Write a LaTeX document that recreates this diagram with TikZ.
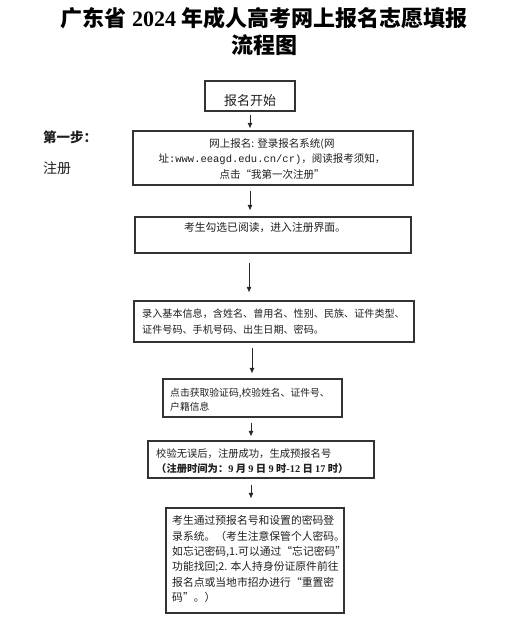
\documentclass[tikz,border=0pt]{standalone}
\usepackage{fontspec}
\setmainfont{Noto Sans CJK SC}
\setmonofont{Liberation Mono}
\newfontfamily\latinserif{Liberation Serif}
\usetikzlibrary{arrows.meta}
\begin{document}
\begin{tikzpicture}[x=1pt,y=-1pt,
  box/.style={draw=black!80,line width=1.1pt,inner sep=0pt,fill=none},
  txt/.style={inner sep=0pt,text=black!88},
  arr/.style={draw=black!85,line width=0.8pt,-{Latex[length=5.5pt,width=5pt]}},
  title/.style={inner sep=0pt,font=\fontsize{22}{26}\selectfont\bfseries}]
\useasboundingbox[fill=white] (0,0) rectangle (517,629);
% title
\node[title] (title1) at (264,18) {广东省 {\latinserif\bfseries 2024} 年成人高考网上报名志愿填报};
\node[title] (title2) at (264,45) {流程图};
% side labels
\node[txt,anchor=west,font=\fontsize{13.5}{15}\selectfont\bfseries] (step1) at (43,137) {第一步：};
\node[txt,anchor=west,font=\fontsize{14}{16}\selectfont] (reg) at (43,168) {注册};
% boxes
\node[box,minimum width=90pt,minimum height=30pt] (b0) at (250,96) {};
\node[box,minimum width=280pt,minimum height=54pt] (b1) at (273,158) {};
\node[box,minimum width=276pt,minimum height=36pt] (b2) at (273,235) {};
\node[box,minimum width=280pt,minimum height=41pt] (b3) at (274,321.5) {};
\node[box,minimum width=179pt,minimum height=38pt] (b4) at (252.5,398) {};
\node[box,minimum width=226pt,minimum height=37pt] (b5) at (261,459.5) {};
\node[box,minimum width=178pt,minimum height=105pt] (b6) at (255,560.5) {};
% texts
\node[txt,font=\fontsize{13}{15}\selectfont] (t0) at (250,101) {报名开始};
\node[txt,align=center,font=\fontsize{10.5}{15.5}\selectfont] (t1) at (272,159) {网上报名: 登录报名系统(网\\址{\ttfamily :www.eeagd.edu.cn/cr)}，阅读报考须知，\\点击“我第一次注册”};
\node[txt,font=\fontsize{10.8}{15}\selectfont] (t2) at (265,228) {考生勾选已阅读，进入注册界面。};
\node[txt,anchor=west,align=left,font=\fontsize{10.1}{16}\selectfont] (t3) at (142,321.5) {录入基本信息，含姓名、曾用名、性别、民族、证件类型、\\证件号码、手机号码、出生日期、密码。};
\node[txt,anchor=west,align=left,font=\fontsize{9.8}{14}\selectfont] (t4) at (170,399.5) {点击获取验证码,校验姓名、证件号、\\户籍信息};
\node[txt,anchor=west,align=left,font=\fontsize{10.3}{15}\selectfont] (t5) at (156,461.5) {校验无误后，注册成功，生成预报名号\\{\bfseries （注册时间为：{\latinserif\bfseries 9} 月 {\latinserif\bfseries 9} 日 {\latinserif\bfseries 9} 时{\latinserif\bfseries -12} 日 {\latinserif\bfseries 17} 时）}};
\node[txt,anchor=west,align=left,font=\fontsize{10.8}{15.3}\selectfont] (t6) at (172,559) {考生通过预报名号和设置的密码登\\录系统。（考生注意保管个人密码。\\如忘记密码,1.可以通过“忘记密码”\\功能找回;2. 本人持身份证原件前往\\报名点或当地市招办进行“重置密\\码”。）};
% arrow columns
\coordinate (xa) at (250,0);
\coordinate (xb) at (249,0);
\coordinate (xc) at (252,0);
\coordinate (xd) at (251,0);
% arrows
\draw[arr,shorten <=3pt,shorten >=2pt] (b0.south) -- (b0.south |- b1.north);
\draw[arr,shorten <=5pt,shorten >=6pt] (b1.south -| xa) -- (b2.north -| xa);
\draw[arr,shorten <=9pt,shorten >=8pt] (b2.south -| xb) -- (b3.north -| xb);
\draw[arr,shorten <=5pt,shorten >=5pt] (b3.south -| xc) -- (b4.north -| xc);
\draw[arr,shorten <=5pt,shorten >=4pt] (b4.south -| xd) -- (b5.north -| xd);
\draw[arr,shorten <=6pt,shorten >=9pt] (b5.south -| xd) -- (b6.north -| xd);
\end{tikzpicture}
\end{document}
